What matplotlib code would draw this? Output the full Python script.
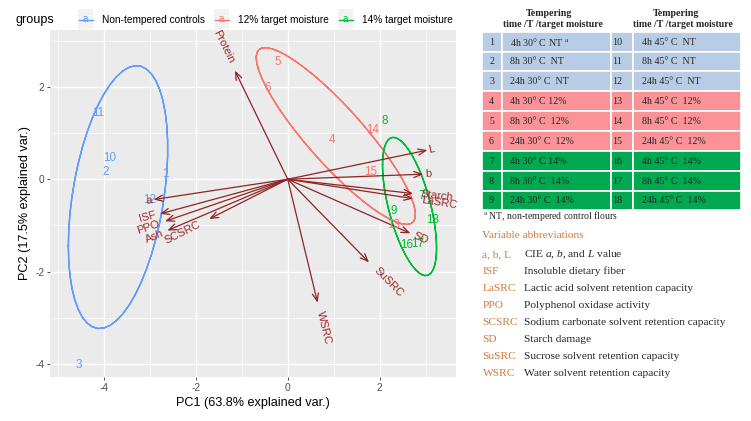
import numpy as np
import matplotlib
matplotlib.use("Agg")
import matplotlib.pyplot as plt
from matplotlib.patches import Rectangle

plt.rcParams['mathtext.fontset'] = 'custom'
plt.rcParams['mathtext.rm'] = 'Liberation Serif'
plt.rcParams['mathtext.it'] = 'Liberation Serif:italic'

# ---------------- data ----------------
obs_id = ['1', '2', '3', '4', '5', '6', '7', '8', '9',
          '10', '11', '12', '13', '14', '15', '16', '17', '18']
obs_group = ['NT', 'NT', 'NT', 'M12', 'M12', 'M12', 'M14', 'M14', 'M14',
             'NT', 'NT', 'NT', 'M12', 'M12', 'M12', 'M14', 'M14', 'M14']
pc1 = [-2.66, -3.96, -4.55, 0.97, -0.21, -0.44, 2.91, 2.11, 2.31,
       -3.87, -4.12, -3.00, 2.30, 1.86, 1.80, 2.60, 2.83, 3.15]
pc2 = [0.11, 0.15, -4.02, 0.86, 2.54, 1.98, -0.37, 1.25, -0.69,
       0.46, 1.43, -0.45, -1.00, 1.07, 0.16, -1.43, -1.41, -0.89]

group_keys = ['NT', 'M12', 'M14']
group_labels = ['Non-tempered controls', '12% target moisture', '14% target moisture']
group_colors = ['#619CFF', '#F8766D', '#00BA38']

var_names = ['Protein', 'L', 'b', 'Starch', 'LaSRC', 'SD', 'SuSRC', 'WSRC',
             'a', 'ISF', 'PPO', 'Ash', 'SCSRC']
var_pc1 = [-1.15, 3.04, 2.95, 2.73, 2.73, 2.67, 1.77, 0.65,
           -2.92, -2.78, -2.67, -2.62, -1.71]
var_pc2 = [2.35, 0.63, 0.11, -0.31, -0.42, -1.17, -1.80, -2.67,
           -0.44, -0.75, -0.91, -1.11, -0.86]

xlabel = 'PC1 (63.8% explained var.)'
ylabel = 'PC2 (17.5% explained var.)'
ellipse_prob = 0.68

table_left_num = ['1', '2', '3', '4', '5', '6', '7', '8', '9']
table_left_txt = [r'4h 30° C NT $^{\rm a}$', '8h 30° C  NT', '24h 30° C  NT',
                  '4h 30° C 12%', '8h 30° C  12%', '24h 30° C  12%',
                  '4h 30° C 14%', '8h 30° C  14%', '24h 30° C  14%']
table_right_num = ['10', '11', '12', '13', '14', '15', '16', '17', '18']
table_right_txt = ['4h 45° C  NT', '8h 45° C  NT', '24h 45° C  NT',
                   '4h 45° C  12%', '8h 45° C  12%', '24h 45° C  12%',
                   '4h 45° C  14%', '8h 45° C  14%', '24h 45° C  14%']
table_row_group = ['NT', 'NT', 'NT', 'M12', 'M12', 'M12', 'M14', 'M14', 'M14']
table_fill = {'NT': '#B8CDE5', 'M12': '#FA9297', 'M14': '#00A84F'}
table_header = ['Tempering', 'time /T /target moisture']
footnote = r'$^{\rm a}$ NT, non-tempered control flours'
abbr_title = 'Variable abbreviations'
abbr_keys = ['a, b, L', 'ISF', 'LaSRC', 'PPO', 'SCSRC', 'SD', 'SuSRC', 'WSRC']
abbr_desc = [r'CIE $\it{a}$, $\it{b}$, and $\it{L}$ value', 'Insoluble dietary fiber',
             'Lactic acid solvent retention capacity', 'Polyphenol oxidase activity',
             'Sodium carbonate solvent retention capacity', 'Starch damage',
             'Sucrose solvent retention capacity', 'Water solvent retention capacity']

# ---------------- figure ----------------
W, H = 751, 421
fig = plt.figure(figsize=(W / 100, H / 100), dpi=100)
SANS = 'Liberation Sans'
SERIF = 'Liberation Serif'

# panel in pixels
px_l, px_r, px_t, px_b = 50, 455.5, 30, 377
ax = fig.add_axes([px_l / W, 1 - px_b / H, (px_r - px_l) / W, (px_b - px_t) / H])
xlim = (-5.174, 3.652)
ylim = (-4.28, 3.23)
ax.set_xlim(*xlim)
ax.set_ylim(*ylim)
ax.set_facecolor('#EBEBEB')
for s in ax.spines.values():
    s.set_visible(False)
ax.set_xticks([-4, -2, 0, 2])
ax.set_yticks([-4, -2, 0, 2])
ax.set_xticks([-5, -3, -1, 1, 3], minor=True)
ax.set_yticks([-3, -1, 1, 3], minor=True)
ax.grid(True, which='major', color='white', lw=1.0)
ax.grid(True, which='minor', color='white', lw=0.5)
ax.set_axisbelow(True)
ax.tick_params(which='major', length=2.5, width=0.6, color='#333333',
               labelsize=7.3, labelcolor='#4D4D4D', pad=1.5)
ax.tick_params(which='minor', length=0)
ax.set_xticklabels(['-4', '-2', '0', '2'], family=SANS)
ax.set_yticklabels(['-4', '-2', '0', '2'], family=SANS)
ax.set_xlabel(xlabel, fontsize=9.1, family=SANS, labelpad=3)
ax.set_ylabel(ylabel, fontsize=9.1, family=SANS, labelpad=3)

pc1a = np.array(pc1)
pc2a = np.array(pc2)
grp = np.array(obs_group)

# ellipses (ggbiplot style)
theta = np.concatenate([np.linspace(-np.pi, np.pi, 50), np.linspace(np.pi, -np.pi, 50)])
circle = np.column_stack([np.cos(theta), np.sin(theta)])
ed = np.sqrt(-2 * np.log(1 - ellipse_prob))
for key, col in zip(group_keys, group_colors):
    m = grp == key
    xy = np.column_stack([pc1a[m], pc2a[m]])
    sigma = np.cov(xy, rowvar=False)
    U = np.linalg.cholesky(sigma).T
    ell = ed * circle @ U + xy.mean(axis=0)
    ax.plot(ell[:, 0], ell[:, 1], color=col, lw=1.0, zorder=2)

# arrows
arrow_col = '#8E2424'
label_col = '#A02828'
for xv, yv in zip(var_pc1, var_pc2):
    ax.annotate('', xy=(xv, yv), xytext=(0, 0),
                arrowprops=dict(arrowstyle='->,head_length=0.55,head_width=0.22',
                                color=arrow_col, lw=0.9, shrinkA=0, shrinkB=0),
                zorder=3)

# point labels
for lab, x, y, g in zip(obs_id, pc1, pc2, obs_group):
    ax.text(x, y, lab, color=group_colors[group_keys.index(g)], fontsize=8.4,
            family=SANS, ha='center', va='center', zorder=4)

# variable labels (hjust = (1 - 1.5*sign(x))/2 like ggbiplot)
fig.canvas.draw()
renderer = fig.canvas.get_renderer()
ppu = (px_r - px_l) / (xlim[1] - xlim[0])  # pixels per unit
for name, xv, yv in zip(var_names, var_pc1, var_pc2):
    t = ax.text(0, 0, name, fontsize=8.0, family=SANS)
    w = t.get_window_extent(renderer).width
    t.remove()
    ang = np.degrees(np.arctan(yv / xv))
    r = np.hypot(xv, yv)
    off = 0.75 * w / ppu
    cx = xv + off * xv / r
    cy = yv + off * yv / r
    ax.text(cx, cy, name, fontsize=8.0, family=SANS, color=label_col,
            rotation=ang, rotation_mode='anchor', ha='center', va='center',
            zorder=5, clip_on=False)

# ---------------- overlay (pixel coordinates) ----------------
ov = fig.add_axes([0, 0, 1, 1], zorder=10)
ov.set_xlim(0, W)
ov.set_ylim(H, 0)
ov.axis('off')

# legend
ov.text(16, 20, 'groups', fontsize=9.1, family=SANS, va='center', ha='left')
key_x = [78, 214, 338]
for kx, lab, col in zip(key_x, group_labels, group_colors):
    ov.add_patch(Rectangle((kx, 9), 15, 20, facecolor='#F2F2F2', edgecolor='none'))
    ov.plot([kx + 0.5, kx + 14.5], [20, 20], color=col, lw=1.0)
    ov.text(kx + 7.5, 19, 'a', color=col, fontsize=7, family=SANS,
            ha='center', va='center')
    ov.text(kx + 23.5, 20, lab, fontsize=7.3, family=SANS, va='center',
            ha='left', color='black')

# table
tcol = '#262626'
hdr_x = [(549.5, 553), (676.5, 683)]
for (xa, xb) in hdr_x:
    ov.text(xa, 14, table_header[0], fontsize=7.2, family=SERIF, weight='bold',
            ha='center', va='center', color=tcol)
    ov.text(xb, 24.5, table_header[1], fontsize=7.0, family=SERIF, weight='bold',
            ha='center', va='center', color=tcol)

row_top = 31.7
row_h = 19.85
cols = [(482, 502), (502, 611), (611, 633), (633, 741)]
for i in range(len(table_left_num)):
    y0 = row_top + i * row_h
    fc = table_fill[table_row_group[i]]
    for (c0, c1) in cols:
        ov.add_patch(Rectangle((c0, y0), c1 - c0, row_h, facecolor=fc,
                               edgecolor='white', lw=1.2))
    yc = y0 + row_h / 2 + 0.5
    ov.text(491.5, yc, table_left_num[i], fontsize=7.2, family=SERIF,
            ha='center', va='center', color=tcol)
    ov.text(509.5, yc, table_left_txt[i], fontsize=7.2, family=SERIF,
            ha='left', va='center', color=tcol)
    ov.text(612, yc, table_right_num[i], fontsize=7.2, family=SERIF,
            ha='left', va='center', color=tcol)
    ov.text(641.5, yc, table_right_txt[i], fontsize=7.2, family=SERIF,
            ha='left', va='center', color=tcol)

ov.text(483, 216, footnote, fontsize=7.0, family=SERIF, ha='left',
        va='center', color=tcol)

orange = '#D2773A'
ov.text(482.5, 236, abbr_title, fontsize=8.2, family=SERIF, ha='left',
        va='center', color=orange)
abbr_y0 = 254.3
abbr_dy = 17.1
for i, (k, d) in enumerate(zip(abbr_keys, abbr_desc)):
    y = abbr_y0 + i * abbr_dy
    ov.text(482.5, y, k, fontsize=8.2, family=SERIF, ha='left', va='center',
            color=orange)
    ov.text(524.5, y, d, fontsize=8.2, family=SERIF, ha='left', va='center',
            color=tcol)

fig.savefig('out.png', dpi=100)
